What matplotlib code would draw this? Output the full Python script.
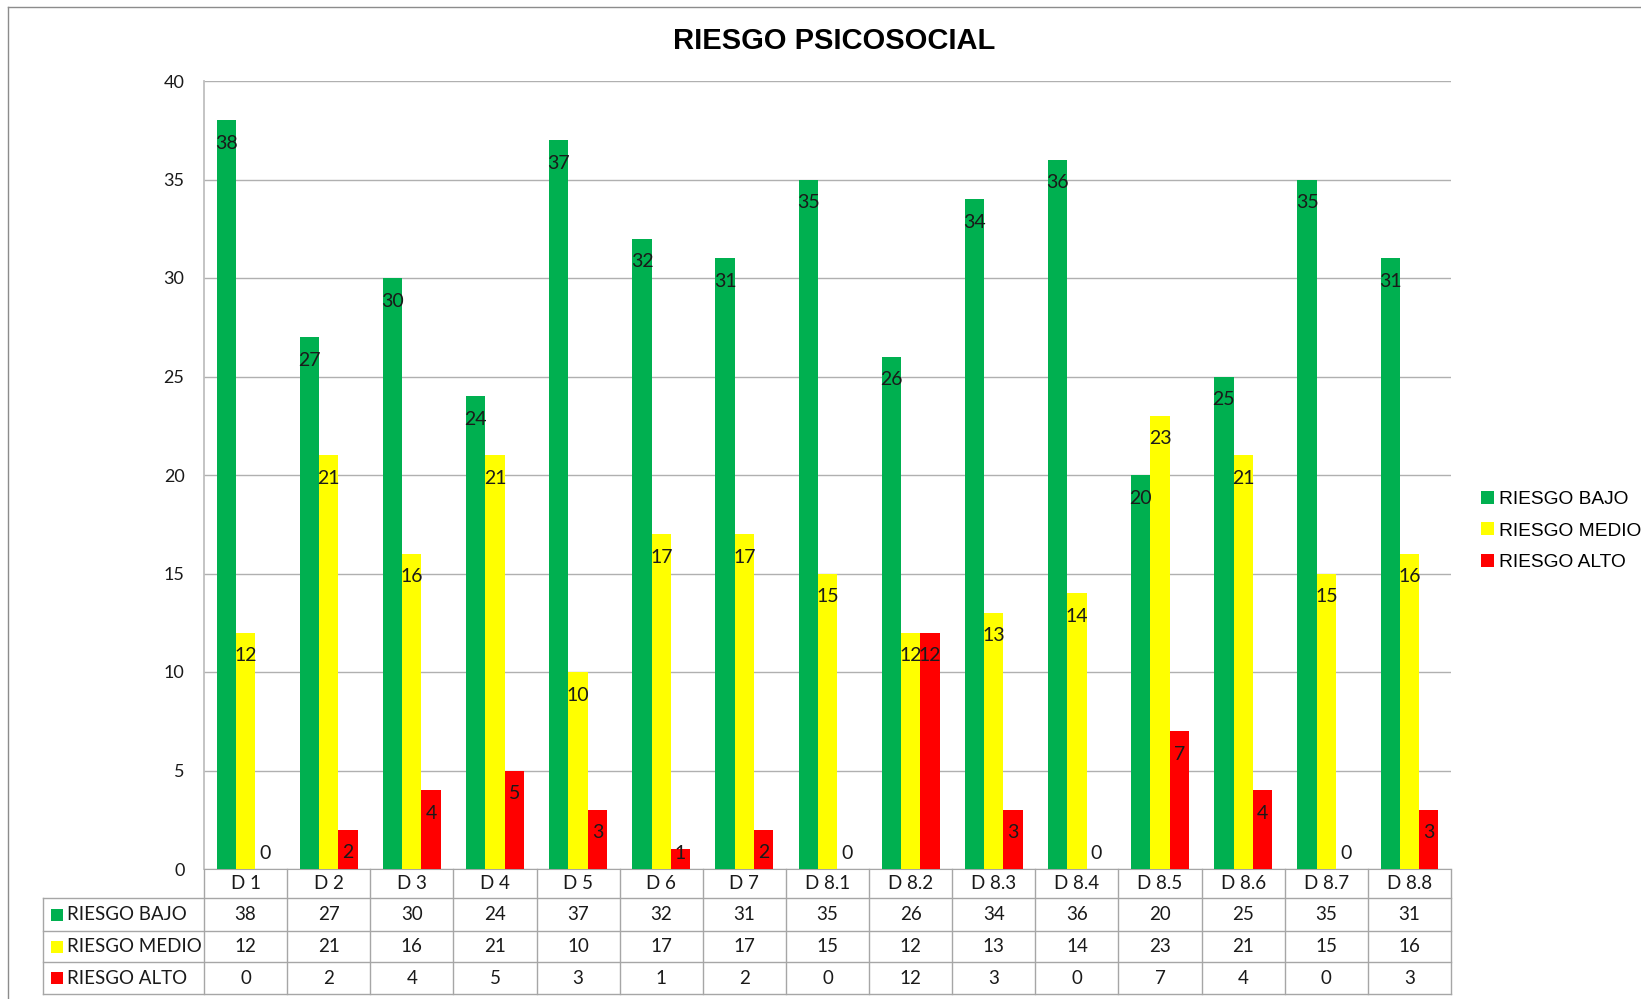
import matplotlib
matplotlib.use("Agg")
import matplotlib.pyplot as plt
from matplotlib.patches import Patch, Rectangle
from matplotlib.lines import Line2D
import numpy as np

# Chart data
categories = ["D 1", "D 2", "D 3", "D 4", "D 5", "D 6", "D 7", "D 8.1",
              "D 8.2", "D 8.3", "D 8.4", "D 8.5", "D 8.6", "D 8.7", "D 8.8"]
riesgo_bajo = [38, 27, 30, 24, 37, 32, 31, 35, 26, 34, 36, 20, 25, 35, 31]
riesgo_medio = [12, 21, 16, 21, 10, 17, 17, 15, 12, 13, 14, 23, 21, 15, 16]
riesgo_alto = [0, 2, 4, 5, 3, 1, 2, 0, 12, 3, 0, 7, 4, 0, 3]

series_names = ["RIESGO BAJO", "RIESGO MEDIO", "RIESGO ALTO"]
series_values = [riesgo_bajo, riesgo_medio, riesgo_alto]
colors = ["#00B050", "#FFFF00", "#FF0000"]

W, H = 1641, 999
fig = plt.figure(figsize=(W / 100, H / 100), dpi=100)
fig.patch.set_facecolor("white")

# plot area in pixels: left 204, right 1451, top 81, bottom 869
ax = fig.add_axes([204 / W, (H - 869) / H, 1247 / W, 788 / H])

x = np.arange(len(categories))
bw = 0.232
grey = "#a6a6a6"

for i, (name, vals, col) in enumerate(zip(series_names, series_values, colors)):
    xs = x + (i - 1) * bw
    ax.bar(xs, vals, width=bw, color=col, edgecolor="none", zorder=3)
    for xi, v in zip(xs, vals):
        ax.text(xi, max(v - 1.17, 0.8), str(v), ha="center", va="center",
                fontsize=14, family="Lato", color="#1a1a1a", zorder=4)

ax.set_xlim(-0.5, len(categories) - 0.5)
ax.set_ylim(0, 40)
ax.set_yticks(range(0, 41, 5))
ax.yaxis.grid(True, color="#b0b0b0", linewidth=1, zorder=0)
ax.set_axisbelow(True)
ax.tick_params(axis="y", length=0, pad=14, labelsize=13, labelcolor="#1a1a1a")
for lab in ax.get_yticklabels():
    lab.set_family("Lato")
ax.set_xticks([])
for s in ["top", "right"]:
    ax.spines[s].set_visible(False)
ax.spines["left"].set_color("#bfbfbf")
ax.spines["left"].set_linewidth(1.3)
ax.spines["bottom"].set_color(grey)


# data table below the plot (axes coordinates)
def ya(ypx):
    return (869 - ypx) / 788


def xa(xpx):
    return (xpx - 204) / 1247


n = len(categories)
tr = ax.transAxes
row_lines = [898, 931, 962, 994]
for yl in row_lines:
    ax.plot([xa(43), 1], [ya(yl), ya(yl)], color=grey, lw=1,
            transform=tr, clip_on=False)
for k in range(n + 1):
    ax.plot([k / n, k / n], [0, ya(994)], color=grey, lw=1,
            transform=tr, clip_on=False)
ax.plot([xa(43), xa(43)], [ya(898), ya(994)], color=grey, lw=1,
        transform=tr, clip_on=False)

for k, c in enumerate(categories):
    ax.text((k + 0.5) / n, ya(883.5), c, ha="center", va="center",
            fontsize=13.5, family="Lato", color="#1a1a1a", transform=tr)

row_centers = [914.5, 946.5, 978]
for yc, name, vals, col in zip(row_centers, series_names, series_values, colors):
    ax.add_patch(Rectangle((xa(51), ya(yc + 6)), xa(63) - xa(51), ya(yc - 6) - ya(yc + 6),
                           facecolor=col, edgecolor="none", transform=tr, clip_on=False))
    ax.text(xa(67), ya(yc), name, ha="left", va="center", fontsize=13.5,
            family="Lato", color="#1a1a1a", transform=tr)
    for k, v in enumerate(vals):
        ax.text((k + 0.5) / n, ya(yc), str(v), ha="center", va="center",
                fontsize=13.5, family="Lato", color="#1a1a1a", transform=tr)

# legend
handles = [Patch(facecolor=c, edgecolor="none", label=nm) for nm, c in zip(series_names, colors)]
fig.legend(handles=handles, loc="center left", bbox_to_anchor=(1464 / W, 1 - 531 / H),
           frameon=False, handlelength=0.66, handleheight=0.66, handletextpad=0.25,
           labelspacing=0.75, prop={"family": "Liberation Sans", "size": 13.8})

# title
fig.text(834 / W, 1 - 41 / H, "RIESGO PSICOSOCIAL", ha="center", va="center",
         fontsize=21, fontweight="bold", family="Liberation Sans", color="#000000")

# outer chart border
fig.add_artist(Line2D([8 / W, 1], [1 - 7 / H, 1 - 7 / H], color="#8c8c8c", lw=1))
fig.add_artist(Line2D([8 / W, 8 / W], [0, 1 - 7 / H], color="#8c8c8c", lw=1))

fig.savefig("out.png", dpi=100)
